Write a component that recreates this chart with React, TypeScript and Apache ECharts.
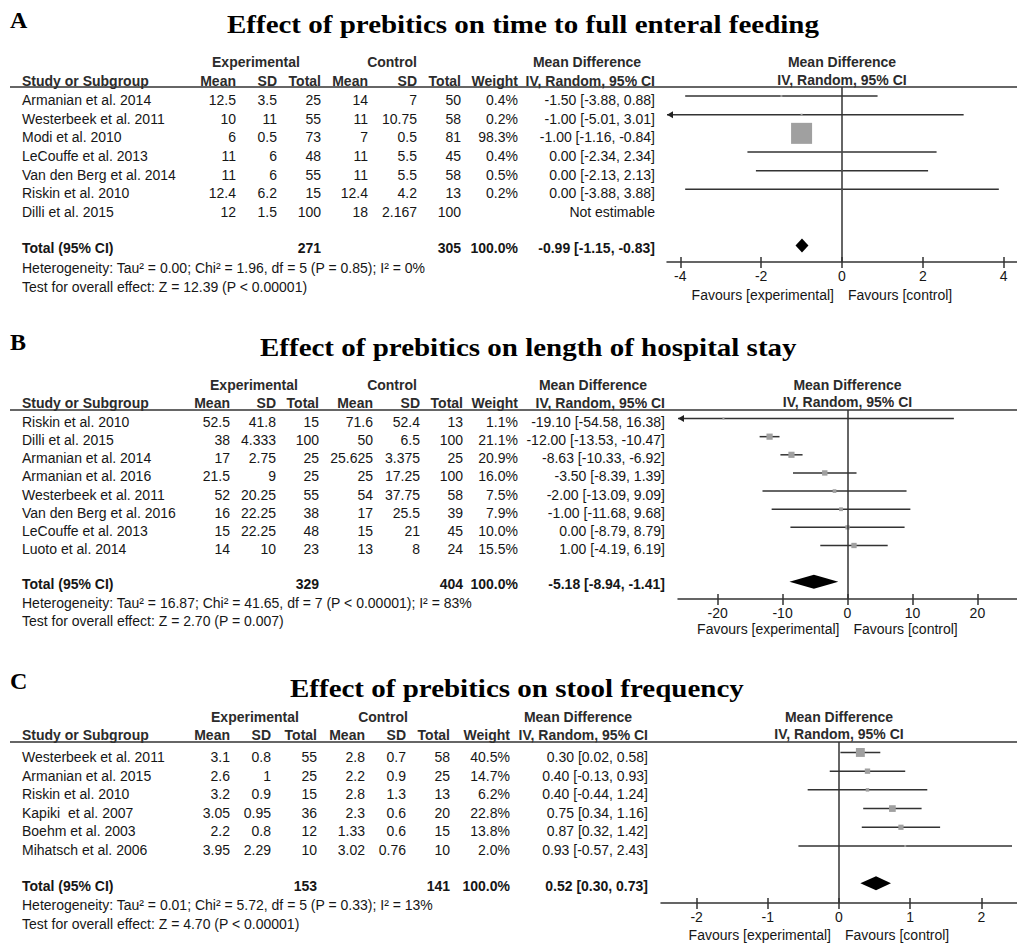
import React, { useEffect, useRef } from "react";
import * as echarts from "echarts";

// ---------------- Panel A: time to full enteral feeding ----------------
const studiesA = ["Armanian et al. 2014", "Westerbeek et al. 2011", "Modi et al. 2010", "LeCouffe et al. 2013", "Van den Berg et al. 2014", "Riskin et al. 2010", "Dilli et al. 2015"];
const expMeanA = [12.5, 10, 6, 11, 11, 12.4, 12];
const expSDA = [3.5, 11, 0.5, 6, 6, 6.2, 1.5];
const expNA = [25, 55, 73, 48, 55, 15, 100];
const ctlMeanA = [14, 11, 7, 11, 11, 12.4, 18];
const ctlSDA = [7, 10.75, 0.5, 5.5, 5.5, 4.2, 2.167];
const ctlNA = [50, 58, 81, 45, 58, 13, 100];
const weightA: (number | null)[] = [0.4, 0.2, 98.3, 0.4, 0.5, 0.2, null];
const mdA: (number | null)[] = [-1.5, -1.0, -1.0, 0.0, 0.0, 0.0, null];
const loA: (number | null)[] = [-3.88, -5.01, -1.16, -2.34, -2.13, -3.88, null];
const hiA: (number | null)[] = [0.88, 3.01, -0.84, 2.34, 2.13, 3.88, null];
const totalNA = [271, 305];
const totalMdA = [-0.99, -1.15, -0.83];
const ticksA = [-4, -2, 0, 2, 4];
const titleA = "Effect of prebitics on time to full enteral feeding";
const hetA = "Heterogeneity: Tau\u00B2 = 0.00; Chi\u00B2 = 1.96, df = 5 (P = 0.85); I\u00B2 = 0%";
const testA = "Test for overall effect: Z = 12.39 (P < 0.00001)";

// ---------------- Panel B: length of hospital stay ----------------
const studiesB = ["Riskin et al. 2010", "Dilli et al. 2015", "Armanian et al. 2014", "Armanian et al. 2016", "Westerbeek et al. 2011", "Van den Berg et al. 2016", "LeCouffe et al. 2013", "Luoto et al. 2014"];
const expMeanB = [52.5, 38, 17, 21.5, 52, 16, 15, 14];
const expSDB = [41.8, 4.333, 2.75, 9, 20.25, 22.25, 22.25, 10];
const expNB = [15, 100, 25, 25, 55, 38, 48, 23];
const ctlMeanB = [71.6, 50, 25.625, 25, 54, 17, 15, 13];
const ctlSDB = [52.4, 6.5, 3.375, 17.25, 37.75, 25.5, 21, 8];
const ctlNB = [13, 100, 25, 100, 58, 39, 45, 24];
const weightB: (number | null)[] = [1.1, 21.1, 20.9, 16.0, 7.5, 7.9, 10.0, 15.5];
const mdB: (number | null)[] = [-19.1, -12.0, -8.63, -3.5, -2.0, -1.0, 0.0, 1.0];
const loB: (number | null)[] = [-54.58, -13.53, -10.33, -8.39, -13.09, -11.68, -8.79, -4.19];
const hiB: (number | null)[] = [16.38, -10.47, -6.92, 1.39, 9.09, 9.68, 8.79, 6.19];
const totalNB = [329, 404];
const totalMdB = [-5.18, -8.94, -1.41];
const ticksB = [-20, -10, 0, 10, 20];
const titleB = "Effect of prebitics on length of hospital stay";
const hetB = "Heterogeneity: Tau\u00B2 = 16.87; Chi\u00B2 = 41.65, df = 7 (P < 0.00001); I\u00B2 = 83%";
const testB = "Test for overall effect: Z = 2.70 (P = 0.007)";

// ---------------- Panel C: stool frequency ----------------
const studiesC = ["Westerbeek et al. 2011", "Armanian et al. 2015", "Riskin et al. 2010", "Kapiki  et al. 2007", "Boehm et al. 2003", "Mihatsch et al. 2006"];
const expMeanC = [3.1, 2.6, 3.2, 3.05, 2.2, 3.95];
const expSDC = [0.8, 1, 0.9, 0.95, 0.8, 2.29];
const expNC = [55, 25, 15, 36, 12, 10];
const ctlMeanC = [2.8, 2.2, 2.8, 2.3, 1.33, 3.02];
const ctlSDC = [0.7, 0.9, 1.3, 0.6, 0.6, 0.76];
const ctlNC = [58, 25, 13, 20, 15, 10];
const weightC: (number | null)[] = [40.5, 14.7, 6.2, 22.8, 13.8, 2.0];
const mdC: (number | null)[] = [0.3, 0.4, 0.4, 0.75, 0.87, 0.93];
const loC: (number | null)[] = [0.02, -0.13, -0.44, 0.34, 0.32, -0.57];
const hiC: (number | null)[] = [0.58, 0.93, 1.24, 1.16, 1.42, 2.43];
const totalNC = [153, 141];
const totalMdC = [0.52, 0.3, 0.73];
const ticksC = [-2, -1, 0, 1, 2];
const titleC = "Effect of prebitics on stool frequency";
const hetC = "Heterogeneity: Tau\u00B2 = 0.01; Chi\u00B2 = 5.72, df = 5 (P = 0.33); I\u00B2 = 13%";
const testC = "Test for overall effect: Z = 4.70 (P < 0.00001)";

const panelLetters = ["A", "B", "C"];

// ---------------- layout (positions / styles) ----------------
const SANS = "'Liberation Sans', Arial, Helvetica, sans-serif";
const SERIF = "'Liberation Serif', 'Times New Roman', Times, serif";
const BODY = "#161616";
const HEAD = "#2b2b2b";
const LINE = "#333333";

const panels = [
  {
    letterY: 20, titleX: 227, titleY: 25, h1: 62, h2: 81, rule: 87, row0: 100, rowH: 18.67, totalY: 248, hetY: 268, testY: 287,
    cols: [236, 277, 321, 368, 417, 461, 518, 655], expC: 256, ctlC: 392, mdHC: 587,
    grid: { left: 667, top: 87, width: 350, height: 175 }, xMin: -4.33, xMax: 4.33, yMin: -0.482, yMax: 8.89, favY: 295, k: 2.12, totalIdx: 8,
    studies: studiesA, expMean: expMeanA, expSD: expSDA, expN: expNA, ctlMean: ctlMeanA, ctlSD: ctlSDA, ctlN: ctlNA,
    weight: weightA, md: mdA, lo: loA, hi: hiA, totalN: totalNA, totalMd: totalMdA, ticks: ticksA, title: titleA, het: hetA, test: testA,
  },
  {
    letterY: 342, titleX: 260, titleY: 348, h1: 385, h2: 403, rule: 410, row0: 422, rowH: 18.14, totalY: 584, hetY: 603, testY: 621,
    cols: [230, 276, 319, 373, 420, 463, 518, 665], expC: 254, ctlC: 392, mdHC: 593,
    grid: { left: 678, top: 410, width: 339, height: 189 }, xMin: -26.1, xMax: 26.1, yMin: -0.47, yMax: 9.95, favY: 629, k: 1.35, totalIdx: 9,
    studies: studiesB, expMean: expMeanB, expSD: expSDB, expN: expNB, ctlMean: ctlMeanB, ctlSD: ctlSDB, ctlN: ctlNB,
    weight: weightB, md: mdB, lo: loB, hi: hiB, totalN: totalNB, totalMd: totalMdB, ticks: ticksB, title: titleB, het: hetB, test: testB,
  },
  {
    letterY: 681, titleX: 290, titleY: 689, h1: 717, h2: 735, rule: 742, row0: 757, rowH: 18.6, totalY: 886, hetY: 905, testY: 924,
    cols: [230, 271, 317, 365, 406, 450, 510, 648], expC: 255, ctlC: 383, mdHC: 578,
    grid: { left: 661, top: 742, width: 356, height: 161 }, xMin: -2.5, xMax: 2.5, yMin: -0.56, yMax: 8.05, favY: 935, k: 1.4, totalIdx: 7,
    studies: studiesC, expMean: expMeanC, expSD: expSDC, expN: expNC, ctlMean: ctlMeanC, ctlSD: ctlSDC, ctlN: ctlNC,
    weight: weightC, md: mdC, lo: loC, hi: hiC, totalN: totalNC, totalMd: totalMdC, ticks: ticksC, title: titleC, het: hetC, test: testC,
  },
];

function txt(x: number, y: number, text: string, o: any = {}) {
  const align = o.align || "left";
  return {
    type: "text",
    x,
    y,
    scaleX: o.scaleX || 1,
    silent: true,
    style: {
      text,
      font: `${o.bold ? "bold " : ""}${o.size || 14}px ${o.family || SANS}`,
      fill: o.color || BODY,
      textAlign: align,
      align,
      textVerticalAlign: "middle",
      verticalAlign: "middle",
    },
  };
}

function fmtCI(m: number, l: number, h: number) {
  return `${m.toFixed(2)} [${l.toFixed(2)}, ${h.toFixed(2)}]`;
}

function buildGraphics() {
  const els: any[] = [];
  panels.forEach((p, pi) => {
    const c = p.cols;
    els.push(txt(10, p.letterY, panelLetters[pi], { bold: true, size: 24, family: SERIF, color: "#000" }));
    els.push(txt(p.titleX, p.titleY, p.title, { bold: true, size: 25, family: SERIF, color: "#000", scaleX: 1.16 }));
    // headers
    els.push(txt(p.expC, p.h1, "Experimental", { bold: true, align: "center", color: HEAD }));
    els.push(txt(p.ctlC, p.h1, "Control", { bold: true, align: "center", color: HEAD }));
    els.push(txt(p.mdHC, p.h1, "Mean Difference", { bold: true, align: "center", color: HEAD }));
    els.push(txt(22, p.h2, "Study or Subgroup", { bold: true, color: HEAD }));
    const h2 = ["Mean", "SD", "Total", "Mean", "SD", "Total", "Weight", "IV, Random, 95% CI"];
    h2.forEach((t, i) => els.push(txt(c[i], p.h2, t, { bold: true, align: "right", color: HEAD })));
    // rule line across the whole width
    els.push({ type: "line", silent: true, shape: { x1: 10, y1: p.rule, x2: 1017, y2: p.rule }, style: { stroke: "#333", lineWidth: 1.5 } });
    // rows
    p.studies.forEach((s, i) => {
      const y = p.row0 + i * p.rowH;
      els.push(txt(22, y, s));
      const vals = [p.expMean[i], p.expSD[i], p.expN[i], p.ctlMean[i], p.ctlSD[i], p.ctlN[i]];
      vals.forEach((v, j) => els.push(txt(c[j], y, String(v), { align: "right" })));
      const w = p.weight[i];
      if (w != null) els.push(txt(c[6], y, `${w.toFixed(1)}%`, { align: "right" }));
      const m = p.md[i];
      if (m != null) els.push(txt(c[7], y, fmtCI(m, p.lo[i] as number, p.hi[i] as number), { align: "right" }));
      else els.push(txt(c[7], y, "Not estimable", { align: "right" }));
    });
    // total row
    els.push(txt(22, p.totalY, "Total (95% CI)", { bold: true }));
    els.push(txt(c[2], p.totalY, String(p.totalN[0]), { bold: true, align: "right" }));
    els.push(txt(c[5], p.totalY, String(p.totalN[1]), { bold: true, align: "right" }));
    els.push(txt(c[6], p.totalY, "100.0%", { bold: true, align: "right" }));
    els.push(txt(c[7], p.totalY, fmtCI(p.totalMd[0], p.totalMd[1], p.totalMd[2]), { bold: true, align: "right" }));
    els.push(txt(22, p.hetY, p.het));
    els.push(txt(22, p.testY, p.test));
    // plot header & footer
    const zeroX = p.grid.left + (p.grid.width * (0 - p.xMin)) / (p.xMax - p.xMin);
    els.push(txt(zeroX, p.h1, "Mean Difference", { bold: true, align: "center", color: HEAD }));
    els.push(txt(zeroX, p.h2 - 1, "IV, Random, 95% CI", { bold: true, align: "center", color: HEAD }));
    els.push(txt(zeroX - 8, p.favY, "Favours [experimental]", { align: "right", color: BODY }));
    els.push(txt(zeroX + 6, p.favY, "Favours [control]", { align: "left", color: BODY }));
  });
  return els;
}

function studyRenderer(xMin: number, xMax: number, k: number) {
  return (params: any, api: any) => {
    const m = api.value(0), lo = api.value(1), hi = api.value(2), row = api.value(3), w = api.value(4);
    const pLo = api.coord([Math.max(lo, xMin), row]);
    const pHi = api.coord([Math.min(hi, xMax), row]);
    const pM = api.coord([m, row]);
    const size = Math.max(2, k * Math.sqrt(w));
    const children: any[] = [
      { type: "line", shape: { x1: pLo[0], y1: pLo[1], x2: pHi[0], y2: pHi[1] }, style: { stroke: LINE, lineWidth: 1.5 } },
    ];
    if (lo < xMin) {
      children.push({ type: "polygon", shape: { points: [[pLo[0], pLo[1]], [pLo[0] + 6, pLo[1] - 3.5], [pLo[0] + 6, pLo[1] + 3.5]] }, style: { fill: "#222" } });
    }
    if (hi > xMax) {
      children.push({ type: "polygon", shape: { points: [[pHi[0], pHi[1]], [pHi[0] - 6, pHi[1] - 3.5], [pHi[0] - 6, pHi[1] + 3.5]] }, style: { fill: "#222" } });
    }
    children.push({ type: "rect", shape: { x: pM[0] - size / 2, y: pM[1] - size / 2, width: size, height: size }, style: { fill: "#a0a0a0" } });
    return { type: "group", children };
  };
}

function diamondRenderer(params: any, api: any) {
  const m = api.value(0), lo = api.value(1), hi = api.value(2), row = api.value(3);
  const pM = api.coord([m, row]);
  const pL = api.coord([lo, row]);
  const pH = api.coord([hi, row]);
  const hh = 7;
  return {
    type: "polygon",
    shape: { points: [[pL[0], pL[1]], [pM[0], pM[1] - hh], [pH[0], pH[1]], [pM[0], pM[1] + hh]] },
    style: { fill: "#000" },
  };
}

function buildOption() {
  const grid: any[] = [];
  const xAxis: any[] = [];
  const yAxis: any[] = [];
  const series: any[] = [];
  panels.forEach((p, i) => {
    grid.push({ left: p.grid.left, top: p.grid.top, width: p.grid.width, height: p.grid.height, containLabel: false });
    xAxis.push({
      gridIndex: i, type: "value", min: p.xMin, max: p.xMax, position: "bottom",
      axisLine: { show: true, onZero: false, lineStyle: { color: LINE, width: 1.5 } },
      axisTick: { show: true, inside: false, length: 6, lineStyle: { color: LINE, width: 1.5 }, customValues: p.ticks },
      axisLabel: { show: true, margin: 7, customValues: p.ticks, fontSize: 14, fontFamily: SANS, color: BODY },
      splitLine: { show: false },
    });
    xAxis.push({
      gridIndex: i, type: "value", min: p.xMin, max: p.xMax, position: "bottom", offset: 0,
      axisLine: { show: false, onZero: false },
      axisTick: { show: true, inside: true, length: 5, lineStyle: { color: LINE, width: 1.5 }, customValues: p.ticks },
      axisLabel: { show: false },
      splitLine: { show: false },
    });
    yAxis.push({ gridIndex: i, type: "value", min: p.yMin, max: p.yMax, inverse: true, show: false });
    const data: any[] = [];
    p.studies.forEach((_, j) => {
      const m = p.md[j];
      if (m != null) data.push([m, p.lo[j], p.hi[j], j, p.weight[j]]);
    });
    series.push({
      type: "custom", xAxisIndex: 2 * i, yAxisIndex: i, encode: { x: 0, y: 3 },
      renderItem: studyRenderer(p.xMin, p.xMax, p.k), data, silent: true,
      markLine: {
        silent: true, symbol: ["none", "none"], label: { show: false },
        lineStyle: { color: LINE, type: "solid", width: 1.5 },
        data: [{ xAxis: 0 }],
      },
      z: 3,
    });
    series.push({
      type: "custom", xAxisIndex: 2 * i, yAxisIndex: i, encode: { x: 0, y: 3 },
      renderItem: diamondRenderer, silent: true,
      data: [[p.totalMd[0], p.totalMd[1], p.totalMd[2], p.totalIdx]],
      z: 4,
    });
  });
  return {
    animation: false,
    backgroundColor: "#ffffff",
    grid, xAxis, yAxis, series,
    graphic: { elements: buildGraphics() },
  };
}

export default function App() {
  const ref = useRef<HTMLDivElement>(null);
  useEffect(() => {
    if (!ref.current) return;
    const chart = echarts.init(ref.current, undefined, { renderer: "svg" });
    chart.setOption(buildOption() as any);
    return () => chart.dispose();
  }, []);
  return <div ref={ref} style={{ position: "absolute", left: 0, top: 0, width: 1017, height: 943, background: "#fff" }} />;
}
